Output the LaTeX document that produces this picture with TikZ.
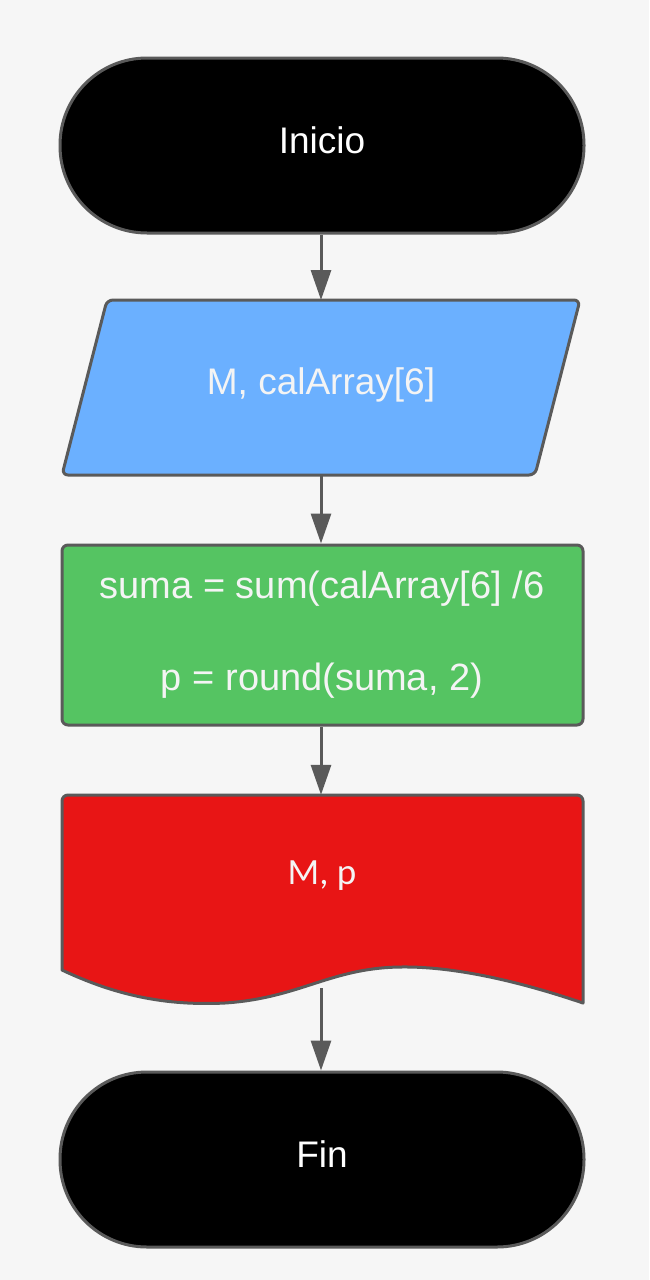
\documentclass[tikz,border=0pt]{standalone}
\usepackage{fontspec}
\setmainfont{Liberation Sans}
\newfontfamily\docfont{Carlito}
\usetikzlibrary{arrows.meta}
\definecolor{bgc}{HTML}{F6F6F6}
\definecolor{edge}{HTML}{5A5A5A}
\definecolor{iblue}{HTML}{6BB0FF}
\definecolor{pgreen}{HTML}{55C462}
\definecolor{ored}{HTML}{E81515}
\definecolor{ltxt}{HTML}{F4F4F4}
\tikzset{
  shapeline/.style={draw=edge, line width=3pt, line join=round},
  terminal/.style={shapeline, fill=black, rectangle, rounded corners=87pt,
    minimum width=524pt, minimum height=175pt, inner sep=0pt},
  label/.style={text=ltxt, inner sep=0pt, font=\fontsize{37}{44}\selectfont},
  flow/.style={draw=edge, line width=3pt, -{Triangle[width=20pt,length=30pt]}, fill=edge}
}
\begin{document}
\begin{tikzpicture}[x=1pt,y=-1pt]
\useasboundingbox (0,0) rectangle (649,1280);
\fill[bgc] (0,0) rectangle (649,1280);

% Inicio
\node[terminal] (inicio) at (322,145.5) {};
\node[label, text=white] (iniciotxt) at (322,140) {Inicio};

% Input parallelogram
\draw[shapeline, fill=iblue, rounded corners=6pt]
  (107,300) -- (580,300) -- (535,475) -- (62,475) -- cycle;
\node[label, minimum width=470pt, minimum height=175pt] (entrada) at (321,385) {M, calArray[6]};

% Process
\node[shapeline, fill=pgreen, rounded corners=6pt, minimum width=521pt, minimum height=180pt,
  inner sep=0pt] (proceso) at (322.5,635) {};
\node[label, font=\fontsize{38}{44}\selectfont] (l1) at (322,589) {suma = sum(calArray[6] /6};
\node[label, font=\fontsize{38}{44}\selectfont] (l2) at (322,681) {p = round(suma, 2)};

% Document (output)
\draw[shapeline, fill=ored]
  (62,970) -- (62,801) [rounded corners=6pt] -- (62,795) -- (583,795) [sharp corners] -- (583,1003)
  .. controls (530,985) and (460,966) .. (400,967)
  .. controls (330,968) and (300,998) .. (225,1003)
  .. controls (165,1006) and (115,995) .. (62,970) -- cycle;
\coordinate (docbottom) at (321,988);
\node[inner sep=0pt, minimum width=521pt, minimum height=175pt] (salida) at (322.5,882.5) {};
\node[text=ltxt, inner sep=0pt, font=\docfont\fontsize{37}{44}\selectfont] (salidatxt) at (322,876) {M, p};

% Fin
\node[terminal] (fin) at (322,1159.5) {};
\node[label, text=white] (fintxt) at (322,1154) {Fin};

% Connectors
\draw[flow] (inicio.south -| 321,0) -- (321,300);
\draw[flow] (321,475) -- (proceso.north -| 321,0);
\draw[flow] (proceso.south -| 321,0) -- (salida.north -| 321,0);
\draw[flow] (docbottom) -- (fin.north -| 321,0);
\end{tikzpicture}
\end{document}
